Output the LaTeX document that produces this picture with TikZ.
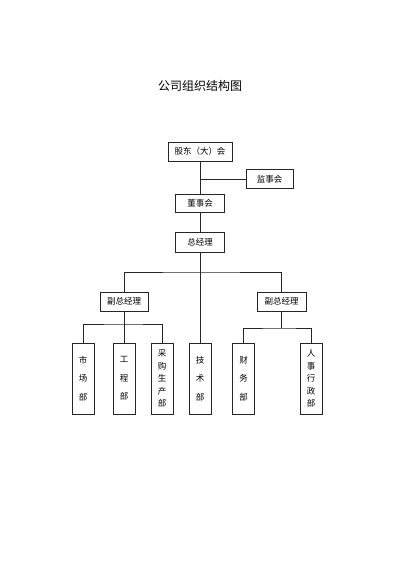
\documentclass[tikz,border=0pt]{standalone}
\usepackage{fontspec}
\newfontfamily\cjk{Noto Sans CJK SC}
\begin{document}
\begin{tikzpicture}[x=1pt,y=-1pt,
  line/.style={draw=black!85,line width=0.7pt},
  hbox/.style={line, rectangle, inner sep=0pt, font=\cjk\fontsize{8.5}{10}\selectfont, minimum height=19pt},
  vbox/.style={line, rectangle, inner sep=0pt, minimum width=22pt, minimum height=71pt, align=center},
  v3/.style={vbox, font=\cjk\fontsize{8.5}{18.5}\selectfont},
  v5/.style={vbox, font=\cjk\fontsize{8.5}{12.5}\selectfont}]
\useasboundingbox (0,0) rectangle (400,566);
\node[font=\cjk\fontsize{12}{14}\selectfont] (title) at (200,86) {公司组织结构图};
\node[hbox, minimum width=64pt] (gd) at (200,151.5) {股东（大）会};
\node[hbox, minimum width=47pt] (jsh) at (269.5,179) {监事会};
\node[hbox, minimum width=49pt, minimum height=18pt] (dsh) at (200,203) {董事会};
\node[hbox, minimum width=49pt, minimum height=20pt] (zjl) at (200,242) {总经理};
\node[hbox, minimum width=48pt] (fz1) at (124,301.5) {副总经理};
\node[hbox, minimum width=49pt] (fz2) at (281.5,301.5) {副总经理};
\node[v3] (sc) at (83,378.5) {市\\场\\部};
\node[v3] (gc) at (124,378.5) {工\\程\\部};
\node[v5] (cg) at (162,378.5) {采\\购\\生\\产\\部};
\node[v3] (js) at (200,378.5) {技\\术\\部};
\node[v3] (cw) at (243.5,378.5) {财\\务\\部};
\node[v5] (rs) at (311,378.5) {人\\事\\行\\政\\部};
\coordinate (j) at (200,179);
\coordinate (bus) at (200,272);
\coordinate (b1) at (124,324);
\coordinate (b2) at (281.5,328);
\draw[line] (gd.south) -- (dsh.north);
\draw[line] (j) -- (jsh.west);
\draw[line] (dsh.south) -- (zjl.north);
\draw[line] (zjl.south) -- (js.north);
\draw[line] (fz1.north) |- (bus) -| (fz2.north);
\draw[line] (fz1.south) -- (b1);
\draw[line] (sc.north) |- (b1) -| (cg.north);
\draw[line] (b1) -- (gc.north);
\draw[line] (fz2.south) -- (b2);
\draw[line] (cw.north) |- (b2) -| (rs.north);
\end{tikzpicture}
\end{document}
